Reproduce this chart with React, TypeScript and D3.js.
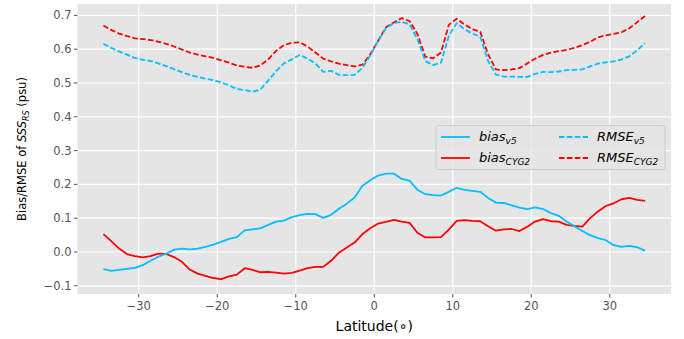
import React from "react";
import * as d3 from "d3";

const lats: number[] = d3.range(70).map((i) => -34.5 + i);

const biasV5: number[] = [
  -0.051, -0.056, -0.053, -0.05, -0.047, -0.039, -0.026, -0.014, -0.005, 0.007,
  0.01, 0.008, 0.01, 0.015, 0.022, 0.03, 0.039, 0.044, 0.064, 0.067,
  0.07, 0.08, 0.09, 0.093, 0.103, 0.109, 0.113, 0.112, 0.101, 0.11,
  0.128, 0.143, 0.161, 0.196, 0.212, 0.226, 0.232, 0.232, 0.216, 0.211,
  0.184, 0.171, 0.168, 0.167, 0.178, 0.19, 0.184, 0.181, 0.178, 0.16,
  0.146, 0.145, 0.138, 0.131, 0.127, 0.132, 0.127, 0.115, 0.107, 0.09,
  0.076, 0.062, 0.05, 0.041, 0.035, 0.02, 0.015, 0.018, 0.014, 0.004,
];

const biasCYG2: number[] = [
  0.053, 0.032, 0.01, -0.006, -0.012, -0.016, -0.012, -0.005, -0.006, -0.015,
  -0.029, -0.052, -0.064, -0.071, -0.077, -0.08, -0.072, -0.067, -0.048, -0.053,
  -0.06, -0.059, -0.061, -0.064, -0.062, -0.055, -0.048, -0.044, -0.044, -0.026,
  -0.002, 0.013, 0.028, 0.053, 0.07, 0.084, 0.089, 0.095, 0.09, 0.086,
  0.057, 0.043, 0.043, 0.044, 0.066, 0.092, 0.094, 0.092, 0.091, 0.076,
  0.063, 0.067, 0.068, 0.062, 0.075, 0.09, 0.097, 0.091, 0.09, 0.08,
  0.077, 0.075, 0.1, 0.12, 0.136, 0.144, 0.156, 0.16, 0.154, 0.151,
];

const rmseV5: number[] = [
  0.616, 0.604, 0.593, 0.584, 0.574, 0.569, 0.565, 0.558, 0.55, 0.541,
  0.532, 0.524, 0.518, 0.513, 0.508, 0.502, 0.493, 0.482, 0.479, 0.474,
  0.481, 0.507, 0.535, 0.558, 0.57, 0.583, 0.572, 0.558, 0.533, 0.536,
  0.524, 0.523, 0.524, 0.545, 0.582, 0.625, 0.663, 0.677, 0.681, 0.673,
  0.63, 0.565, 0.553, 0.56, 0.64, 0.677, 0.659, 0.646, 0.637, 0.565,
  0.525, 0.519, 0.519, 0.518, 0.518, 0.527, 0.533, 0.532, 0.534, 0.538,
  0.539, 0.54, 0.549, 0.557, 0.561, 0.564, 0.57, 0.579, 0.597, 0.618,
];

const rmseCYG2: number[] = [
  0.67, 0.657, 0.646, 0.639, 0.632, 0.63, 0.627, 0.622, 0.616, 0.608,
  0.599, 0.59, 0.584, 0.579, 0.574, 0.567, 0.56, 0.552, 0.548, 0.545,
  0.552, 0.57, 0.595, 0.612, 0.619, 0.62, 0.608, 0.59, 0.572, 0.564,
  0.557, 0.553, 0.549, 0.554, 0.585, 0.625, 0.665, 0.679, 0.692, 0.683,
  0.645, 0.578, 0.573, 0.59, 0.672, 0.69, 0.673, 0.659, 0.652, 0.585,
  0.54, 0.538, 0.54, 0.544, 0.558, 0.572, 0.583, 0.59, 0.594, 0.598,
  0.604, 0.612, 0.622, 0.635, 0.641, 0.645, 0.65, 0.662, 0.68, 0.698,
];

const xTicks: number[] = [-30, -20, -10, 0, 10, 20, 30];
const yTicks: number[] = [-0.1, 0.0, 0.1, 0.2, 0.3, 0.4, 0.5, 0.6, 0.7];

const CYAN = "#00BFFF";
const RED = "#FF0000";
const FONT = "DejaVu Sans, sans-serif";

export default function App() {
  const W = 684;
  const H = 339;
  const left = 77.5;
  const right = 671;
  const top = 4;
  const bottom = 294;

  const x = d3.scaleLinear().domain([-37.8, 37.8]).range([left, right]);
  const y = d3.scaleLinear().domain([-0.1243, 0.7337]).range([bottom, top]);

  const mk = (vals: number[]) =>
    d3
      .line<number>()
      .x((_, i) => x(lats[i]))
      .y((d) => y(d))(vals) || "";

  const series = [
    { vals: rmseCYG2, color: RED, dash: "5.5,2.4" },
    { vals: rmseV5, color: CYAN, dash: "5.5,2.4" },
    { vals: biasCYG2, color: RED, dash: undefined },
    { vals: biasV5, color: CYAN, dash: undefined },
  ];

  const legend = [
    { color: CYAN, dash: undefined, base: "bias", sub: "v5", lx: 441, ly: 137 },
    { color: RED, dash: undefined, base: "bias", sub: "CYG2", lx: 441, ly: 158 },
    { color: CYAN, dash: "5.5,2.4", base: "RMSE", sub: "v5", lx: 559, ly: 137 },
    { color: RED, dash: "5.5,2.4", base: "RMSE", sub: "CYG2", lx: 559, ly: 158 },
  ];

  return (
    <svg
      width={W}
      height={H}
      style={{ position: "absolute", left: 0, top: 0, background: "#fff" }}
      fontFamily={FONT}
    >
      <rect x={left} y={top} width={right - left} height={bottom - top} fill="#E5E5E5" />
      {xTicks.map((t) => (
        <line key={"gx" + t} x1={x(t)} x2={x(t)} y1={top} y2={bottom} stroke="#fff" strokeWidth={1.2} />
      ))}
      {yTicks.map((t) => (
        <line key={"gy" + t} x1={left} x2={right} y1={y(t)} y2={y(t)} stroke="#fff" strokeWidth={1.2} />
      ))}
      {series.map((s, i) => (
        <path
          key={i}
          d={mk(s.vals)}
          fill="none"
          stroke={s.color}
          strokeWidth={1.8}
          strokeDasharray={s.dash}
          strokeLinejoin="round"
        />
      ))}
      {xTicks.map((t) => (
        <g key={"tx" + t}>
          <line x1={x(t)} x2={x(t)} y1={bottom} y2={bottom + 3.5} stroke="#555" strokeWidth={1} />
          <text x={x(t)} y={bottom + 16} textAnchor="middle" fontSize={11.5} fill="#555">
            {t < 0 ? "\u2212" + Math.abs(t) : String(t)}
          </text>
        </g>
      ))}
      {yTicks.map((t) => (
        <g key={"ty" + t}>
          <line x1={left - 3.5} x2={left} y1={y(t)} y2={y(t)} stroke="#555" strokeWidth={1} />
          <text x={left - 6} y={y(t) + 4} textAnchor="end" fontSize={11.5} fill="#555">
            {t < 0 ? "\u2212" + Math.abs(t).toFixed(1) : t.toFixed(1)}
          </text>
        </g>
      ))}
      <text x={(left + right) / 2} y={331} textAnchor="middle" fontSize={14} fill="#000">
        Latitude(∘)
      </text>
      <text
        transform={`translate(26, ${(top + bottom) / 2}) rotate(-90)`}
        textAnchor="middle"
        fontSize={11.5}
        fill="#000"
      >
        Bias/RMSE of <tspan fontStyle="italic">SSS</tspan>
        <tspan fontStyle="italic" fontSize={8} dy={3}>RS</tspan>
        <tspan dy={-3}> (psu)</tspan>
      </text>
      <g>
        <rect x={436} y={125.5} width={229} height={44} rx={2} fill="#E5E5E5" fillOpacity={0.8} stroke="#ccc" strokeWidth={1} />
        {legend.map((l, i) => (
          <g key={"lg" + i}>
            <line
              x1={l.lx}
              x2={l.lx + 29}
              y1={l.ly}
              y2={l.ly}
              stroke={l.color}
              strokeWidth={1.8}
              strokeDasharray={l.dash}
            />
            <text x={l.lx + 38} y={l.ly + 4} fontSize={13} fontStyle="italic" fill="#000">
              {l.base}
              <tspan fontSize={9} dy={3}>{l.sub}</tspan>
            </text>
          </g>
        ))}
      </g>
    </svg>
  );
}
